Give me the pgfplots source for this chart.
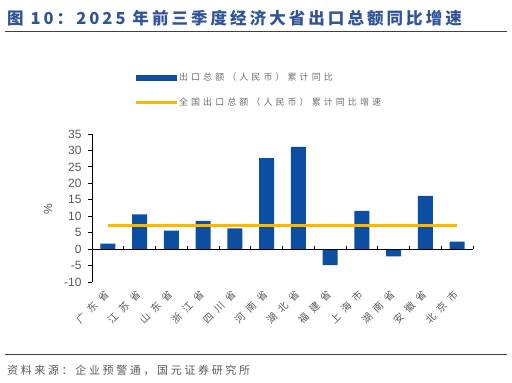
\documentclass[border=0pt]{standalone}
\usepackage{pgfplots}
\pgfplotsset{compat=1.18}
\usepackage{fontspec}
\setmainfont{Liberation Sans}
\newfontfamily\cjk{Noto Sans CJK SC}
\newfontfamily\cjktitle[LetterSpace=18.5]{Noto Sans CJK SC}
\newfontfamily\cjklegend[LetterSpace=34]{Noto Sans CJK SC}
\newfontfamily\cjktick[LetterSpace=55]{Noto Sans CJK SC}
\newfontfamily\cjksrc[LetterSpace=24]{Noto Sans CJK SC}
\definecolor{titleblue}{RGB}{47,85,151}
\definecolor{barblue}{RGB}{11,78,162}
\definecolor{goldline}{RGB}{250,184,0}
\definecolor{tickgray}{RGB}{89,89,89}
\definecolor{leggray}{RGB}{110,110,110}
\begin{document}
\begin{tikzpicture}
\path[use as bounding box] (0,0) rectangle (512bp,-383bp);
\node[anchor=base west, inner sep=0pt, text=titleblue] at (7bp,-24bp)
  {\fontsize{16.5bp}{18bp}\cjktitle\bfseries 图 10：2025 年前三季度经济大省出口总额同比增速};
\draw[line width=1bp, color=black!75] (5bp,-31bp) -- (507bp,-31bp);
\draw[line width=1bp, color=black!75] (5bp,-354bp) -- (507bp,-354bp);
\node[anchor=base west, inner sep=0pt, text=tickgray] at (7bp,-374bp)
  {\fontsize{11bp}{13bp}\cjksrc 资料来源：企业预警通，国元证券研究所};
\node[rotate=90, text=tickgray] at (48bp,-209bp) {\fontsize{12bp}{14bp}\selectfont\%};
\begin{axis}[
  at={(92bp,-282bp)}, anchor=south west,
  scale only axis, width=381bp, height=148bp,
  xmin=-0.5, xmax=11.5, ymin=-10, ymax=35,
  ytick={-10,-5,...,35},
  axis y line*=left, axis x line*=bottom,
  x axis line style={draw=none},
  y axis line style={black, line width=1bp, -},
  xtick={0,...,11},
  xticklabels={广东省,江苏省,山东省,浙江省,四川省,河南省,湖北省,福建省,上海市,湖南省,安徽省,北京市},
  major x tick style={draw=none},
  ytick style={black, line width=1bp},
  tick align=outside, major tick length=4bp,
  yticklabel style={text=tickgray, font=\fontsize{12bp}{14bp}\selectfont, xshift=-3bp},
  xticklabel style={rotate=45, anchor=east, text=tickgray, font=\fontsize{10bp}{11bp}\cjktick, yshift=-4bp, xshift=-2bp},
  /pgf/number format/assume math mode=true,
  clip=false,
  legend style={draw=none, fill=none, at={(0.110,1.42)}, anchor=north west,
    row sep=14bp, inner sep=0pt, cells={anchor=west},
    nodes={text=leggray, font=\fontsize{9bp}{11bp}\cjklegend, inner sep=1bp}},
]
\addplot[ybar, bar width=15bp, bar shift=0pt, fill=barblue, draw=none,
  legend image code/.code={\fill[barblue] (0bp,-3bp) rectangle (41bp,3bp);}]
  coordinates {(0,1.7) (1,10.6) (2,5.6) (3,8.6) (4,6.3) (5,27.7) (6,31.1) (7,-4.9) (8,11.6) (9,-2.2) (10,16.2) (11,2.3)};
\addlegendentry{出口总额（人民币）累计同比}
\addplot[goldline, line width=3bp,
  legend image code/.code={\draw[goldline, line width=3bp] (0bp,0bp) -- (41bp,0bp);}]
  coordinates {(0,7.1) (11,7.1)};
\addlegendentry{全国出口总额（人民币）累计同比增速}
\draw[black, line width=1.2bp] (axis cs:-0.5,0) -- (axis cs:11.5,0);
\pgfplotsinvokeforeach{0.5,1.5,2.5,3.5,4.5,5.5,6.5,7.5,8.5,9.5,10.5,11.5}{\draw[black, line width=1bp] (axis cs:#1,0) -- ([yshift=3bp]axis cs:#1,0);}
\end{axis}
\end{tikzpicture}
\end{document}
